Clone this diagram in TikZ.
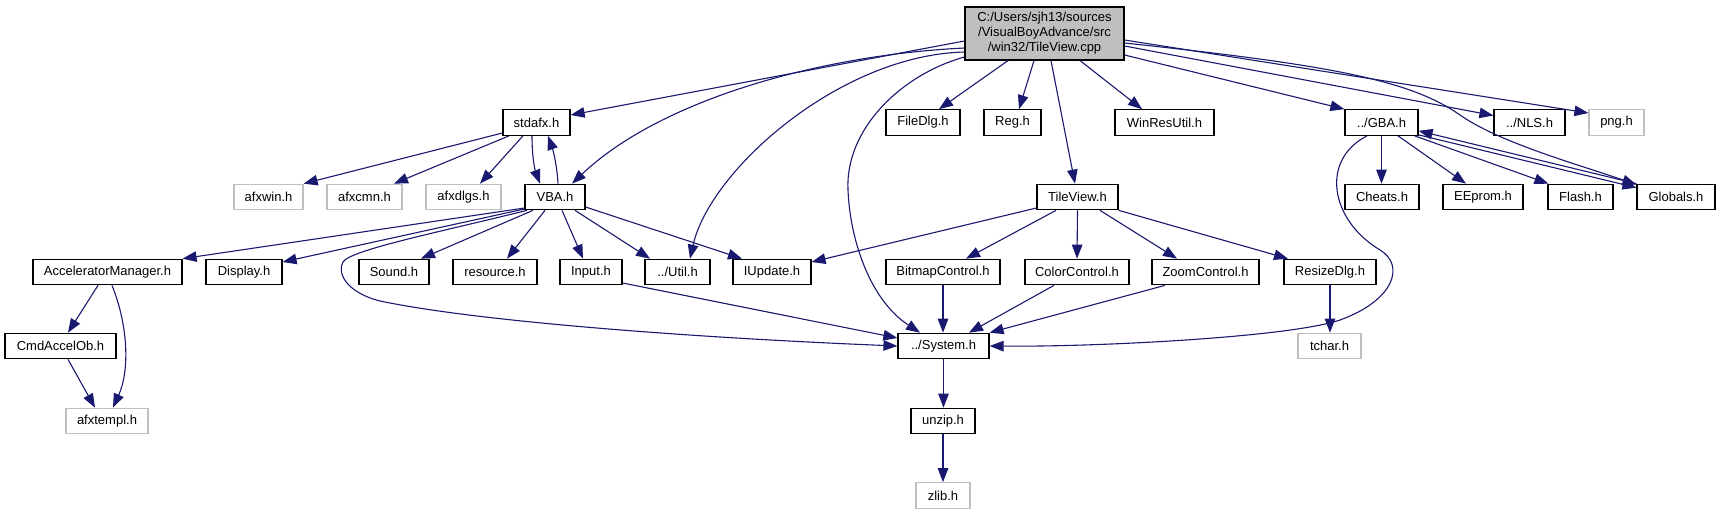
\documentclass[tikz,border=0pt]{standalone}
\usepackage{fontspec}
\setmainfont{Liberation Sans}
\usetikzlibrary{arrows.meta}
\definecolor{edgec}{HTML}{191970}
\definecolor{graybd}{HTML}{BFBFBF}
\definecolor{mainfill}{HTML}{BFBFBF}
\begin{document}
\begin{tikzpicture}[x=1pt,y=-1pt,
  box/.style={draw=black, line width=1.2pt, fill=white, inner sep=0pt, minimum height=25.5pt, font=\fontsize{13}{15}\selectfont},
  gbox/.style={box, draw=graybd},
  edge/.style={draw=edgec, line width=1.1pt, -{Triangle[length=14pt,width=10.5pt]}}]
\useasboundingbox[fill=white] (0,0) rectangle (1721,515);
% nodes
\node[box, fill=mainfill, minimum width=159pt, minimum height=53pt, align=center] (main) at (1044.5,33.5) {C:/Users/sjh13/sources\\/VisualBoyAdvance/src\\/win32/TileView.cpp};
% row 1
\node[box, minimum width=67pt] (stdafx) at (536.5,122.5) {stdafx.h};
\node[box, minimum width=74pt] (filedlg) at (923,122.5) {FileDlg.h};
\node[box, minimum width=57pt] (reg) at (1012.5,122.5) {Reg.h};
\node[box, minimum width=99pt] (winres) at (1164.5,122.5) {WinResUtil.h};
\node[box, minimum width=73pt] (gba) at (1381.5,122.5) {../GBA.h};
\node[box, minimum width=71pt] (nls) at (1529.5,122.5) {../NLS.h};
\node[gbox, minimum width=55pt] (png) at (1616.5,122.5) {png.h};
% row 2
\node[gbox, minimum width=69pt] (afxwin) at (268.5,197) {afxwin.h};
\node[gbox, minimum width=75pt] (afxcmn) at (364.5,197) {afxcmn.h};
\node[gbox, minimum width=75pt] (afxdlgs) at (463.5,197) {afxdlgs.h};
\node[box, minimum width=60pt] (vba) at (555,197) {VBA.h};
\node[box, minimum width=81pt] (tileview) at (1077.5,197) {TileView.h};
\node[box, minimum width=74pt] (cheats) at (1382,197) {Cheats.h};
\node[box, minimum width=80pt] (eeprom) at (1483,197) {EEprom.h};
\node[box, minimum width=65pt] (flash) at (1580.5,197) {Flash.h};
\node[box, minimum width=78pt] (globals) at (1676,197) {Globals.h};
% row 3
\node[box, minimum width=149pt] (accel) at (107.5,272) {AcceleratorManager.h};
\node[box, minimum width=76pt] (display) at (244,272) {Display.h};
\node[box, minimum width=70pt] (sound) at (394,272) {Sound.h};
\node[box, minimum width=84pt] (resource) at (495,272) {resource.h};
\node[box, minimum width=62pt] (input) at (591,272) {Input.h};
\node[box, minimum width=65pt] (util) at (677.5,272) {../Util.h};
\node[box, minimum width=78pt] (iupdate) at (772,272) {IUpdate.h};
\node[box, minimum width=114pt] (bitmap) at (943,272) {BitmapControl.h};
\node[box, minimum width=104pt] (color) at (1077,272) {ColorControl.h};
\node[box, minimum width=107pt] (zoomc) at (1205.5,272) {ZoomControl.h};
\node[box, minimum width=92pt] (resize) at (1330,272) {ResizeDlg.h};
% row 4
\node[box, minimum width=111pt] (cmd) at (60.5,346) {CmdAccelOb.h};
\node[box, minimum width=91pt] (system) at (943.5,346) {../System.h};
\node[gbox, minimum width=63pt] (tchar) at (1329.5,346) {tchar.h};
% row 5
\node[gbox, minimum width=82pt] (afxtempl) at (107,421) {afxtempl.h};
\node[box, minimum width=64pt] (unzip) at (943,421) {unzip.h};
% row 6
\node[gbox, minimum width=54pt] (zlib) at (943,495.5) {zlib.h};

% edges from main
\draw[edge] ([yshift=-7.5pt]main.west) -- ([yshift=7.5pt]stdafx.east);
\draw[edge] ([yshift=-14.5pt]main.west) .. controls (820,55) and (660,100) .. ([xshift=17pt]vba.north);
\draw[edge] ([yshift=-18.5pt]main.west) .. controls (840,55) and (710,170) .. ([xshift=12.5pt]util.north);
\draw[edge] ([yshift=-23.5pt]main.west) .. controls (900,75) and (845,130) .. (848,190) .. controls (850,240) and (870,300) .. ([xshift=-23.5pt]system.north);
\draw[edge] ([xshift=-36.5pt]main.south) -- ([xshift=16pt]filedlg.north);
\draw[edge] ([xshift=-10.5pt]main.south) -- ([xshift=6.5pt]reg.north);
\draw[edge] ([xshift=6.5pt]main.south) -- ([xshift=-2.5pt]tileview.north);
\draw[edge] ([xshift=35.5pt]main.south) -- ([xshift=-22.5pt]winres.north);
\draw[edge] ([yshift=-21.5pt]main.east) -- (gba.north west);
\draw[edge] ([yshift=-12.5pt]main.east) -- ([yshift=7pt]nls.west);
\draw[edge] ([yshift=-6.5pt]main.east) -- ([yshift=9.5pt]png.west);
\draw[edge] ([yshift=-9.5pt]main.east) .. controls (1330,65) and (1410,80) .. (1460,115) .. controls (1500,143) and (1580,165) .. ([yshift=-1pt]globals.north west);

% stdafx
\draw[edge] ([yshift=-10.5pt]stdafx.west) -- (afxwin.north east);
\draw[edge] ([xshift=-27.5pt]stdafx.south) -- ([xshift=29.5pt]afxcmn.north);
\draw[edge] ([xshift=-13.5pt]stdafx.south) -- ([xshift=16.5pt]afxdlgs.north);
\draw[edge] ([xshift=-4.5pt]stdafx.south) .. controls (532,158) and (535,170) .. ([xshift=-15pt]vba.north);
\draw[edge] ([xshift=3pt]vba.north) .. controls (557,165) and (553,150) .. ([xshift=11.5pt]stdafx.south);

% VBA
\draw[edge] ([yshift=-11pt]vba.west) -- (accel.north east);
\draw[edge] ([yshift=-12pt]vba.west) -- ([yshift=10pt]display.east);
\draw[edge] ([xshift=-28pt]vba.south) .. controls (440,232) and (350,250) .. (343,262) .. controls (337,272) and (345,292) .. (380,301) .. controls (480,322) and (700,338) .. (system.west);
\draw[edge] ([xshift=-22pt]vba.south) -- ([xshift=27pt]sound.north);
\draw[edge] ([xshift=-10pt]vba.south) -- ([xshift=12pt]resource.north);
\draw[edge] ([xshift=7pt]vba.south) -- ([xshift=-8pt]input.north);
\draw[edge] ([xshift=20pt]vba.south) -- ([xshift=-27.5pt]util.north);
\draw[edge] ([yshift=-10pt]vba.east) -- ([xshift=-30pt]iupdate.north);

% TileView
\draw[edge] ([yshift=-11pt]tileview.west) -- ([yshift=10pt]iupdate.east);
\draw[edge] ([xshift=-21.5pt]tileview.south) -- ([xshift=23pt]bitmap.north);
\draw[edge] (tileview.south) -- (color.north);
\draw[edge] ([xshift=22.5pt]tileview.south) -- ([xshift=-28.5pt]zoomc.north);
\draw[edge] (tileview.south east) -- ([xshift=-42pt]resize.north);

% GBA
\draw[edge] (gba.south) -- (gba.south |- cheats.north);
\draw[edge] ([xshift=16.5pt]gba.south) -- ([xshift=-17pt]eeprom.north);
\draw[edge] ([xshift=-4pt]gba.south east) -- ([xshift=1pt]flash.north west);
\draw[edge] ([yshift=1pt]gba.south east) -- ([yshift=-4pt]globals.north west);
\draw[edge] (globals.north west) -- ([yshift=5pt]gba.south east);
\draw[edge] ([xshift=-14.5pt]gba.south) .. controls (1320,160) and (1330,220) .. (1380,250) .. controls (1405,265) and (1395,300) .. (1340,320) .. controls (1290,337) and (1100,347) .. (system.east);

% row 3 to system
\draw[edge] ([yshift=-11pt]input.east) -- ([yshift=8pt]system.west);
\draw[edge] (bitmap.south) -- (bitmap.south |- system.north);
\draw[edge] ([xshift=-23pt]color.south) -- ([xshift=25.5pt]system.north);
\draw[edge] ([xshift=-40.5pt]zoomc.south) -- (system.north east);
\draw[edge] (resize.south) -- (resize.south |- tchar.north);

% lower chain
\draw[edge] (system.south) -- (system.south |- unzip.north);
\draw[edge] (unzip.south) -- (unzip.south |- zlib.north);

% accelerator
\draw[edge] ([xshift=-9.5pt]accel.south) -- ([xshift=7.5pt]cmd.north);
\draw[edge] ([xshift=4.5pt]accel.south) .. controls (128,325) and (130,370) .. ([xshift=6pt]afxtempl.north);
\draw[edge] ([xshift=7.5pt]cmd.south) -- ([xshift=-12pt]afxtempl.north);
\end{tikzpicture}
\end{document}
